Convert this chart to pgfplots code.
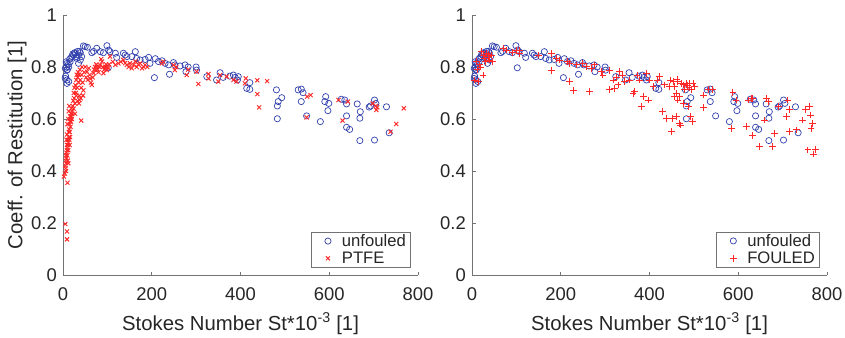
\documentclass[border=0pt]{standalone}
\usepackage{fontspec}
\setmainfont{Liberation Sans}
\usepackage{pgfplots}
\usepackage{pgfplotstable}
\pgfplotsset{compat=1.18}
\definecolor{mblue}{RGB}{50,64,173}
\definecolor{mred}{RGB}{255,40,40}
\definecolor{txt}{rgb}{0.15,0.15,0.15}

\pgfplotstableread{
x y
5 0.795
7 0.82
8 0.80
9 0.814
9 0.788
10 0.79
12 0.81
13 0.80
15 0.83
16 0.82
18 0.835
20 0.84
22 0.85
24 0.846
26 0.855
28 0.853
30 0.84
31 0.833
33 0.86
35 0.846
35 0.814
37 0.86
39 0.855
39 0.827
42 0.84
46 0.881
50 0.878
55 0.876
5 0.756
6 0.765
9 0.75
9 0.737
13 0.744
65 0.855
69 0.86
76 0.872
84 0.859
91 0.855
99 0.882
102 0.797
103 0.865
106 0.859
118 0.853
121 0.837
136 0.853
140 0.846
144 0.84
155 0.84
163 0.859
166 0.833
174 0.827
185 0.829
193 0.837
196 0.814
206 0.759
208 0.832
215 0.821
223 0.824
230 0.814
238 0.808
240 0.772
249 0.817
252 0.808
264 0.804
275 0.808
277 0.782
282 0.80
300 0.80
301 0.788
324 0.763
346 0.75
354 0.778
361 0.76
376 0.765
384 0.769
388 0.76
393 0.75
395 0.763
414 0.718
421 0.714
421 0.74
481 0.712
483 0.65
485 0.667
483 0.601
493 0.682
530 0.712
537 0.715
541 0.701
537 0.667
549 0.612
580 0.59
590 0.667
592 0.686
597 0.632
599 0.66
627 0.676
635 0.673
639 0.658
639 0.612
639 0.568
646 0.56
663 0.658
669 0.603
670 0.628
669 0.517
690 0.646
693 0.65
702 0.673
705 0.66
702 0.519
729 0.647
735 0.547
}\unfouled

\pgfplotstableread{
x y
2 0.378
5 0.196
9 0.167
9 0.137
10 0.355
4 0.39
5 0.42
6 0.44
6 0.41
7 0.46
7 0.43
8 0.47
8 0.45
9 0.48
9 0.50
10 0.49
10 0.46
11 0.52
11 0.50
12 0.51
12 0.48
13 0.53
13 0.55
14 0.56
14 0.52
15 0.58
15 0.55
16 0.59
16 0.61
17 0.60
17 0.57
18 0.62
18 0.59
19 0.61
19 0.64
20 0.60
20 0.63
21 0.62
22 0.65
8 0.52
9 0.54
10 0.58
12 0.60
13 0.63
14 0.65
11 0.44
12 0.43
7 0.40
15 0.50
16 0.53
23 0.67
24 0.70
25 0.68
26 0.72
27 0.66
28 0.73
29 0.70
30 0.75
31 0.77
32 0.72
33 0.76
34 0.78
35 0.74
36 0.77
37 0.69
38 0.79
39 0.75
40 0.68
41 0.72
42 0.77
43 0.80
44 0.74
45 0.69
46 0.71
41 0.594
24 0.64
27 0.62
30 0.69
33 0.67
36 0.66
37 0.673
48 0.78
50 0.80
52 0.76
54 0.782
56 0.75
58 0.795
60 0.77
61 0.756
63 0.74
65 0.731
67 0.76
69 0.776
70 0.79
72 0.80
73 0.788
75 0.81
76 0.801
78 0.79
80 0.78
82 0.80
84 0.808
86 0.83
88 0.821
90 0.80
91 0.776
93 0.79
95 0.801
97 0.81
99 0.788
100 0.80
102 0.795
104 0.81
106 0.84
112 0.82
118 0.808
125 0.814
130 0.82
136 0.827
140 0.815
144 0.808
148 0.80
151 0.814
155 0.795
159 0.808
163 0.821
166 0.80
170 0.81
174 0.814
178 0.795
182 0.80
185 0.808
190 0.80
223 0.814
226 0.82
249 0.808
252 0.788
255 0.80
279 0.769
282 0.79
301 0.782
305 0.735
328 0.773
328 0.756
354 0.769
350 0.744
369 0.763
384 0.75
391 0.744
412 0.756
410 0.737
438 0.749
438 0.696
442 0.645
460 0.746
549 0.606
550 0.686
558 0.692
621 0.673
630 0.594
642 0.667
705 0.65
706 0.635
698 0.66
708 0.645
738 0.551
751 0.581
768 0.641
}\ptfe

\pgfplotstableread{
x y
6 0.75
10 0.82
14 0.744
17 0.808
21 0.859
25 0.846
25 0.769
29 0.833
32 0.853
36 0.84
40 0.827
44 0.846
46 0.82
12 0.79
20 0.80
30 0.82
38 0.85
70 0.872
77 0.865
92 0.855
100 0.865
107 0.865
107 0.853
149 0.846
179 0.853
179 0.788
190 0.833
198 0.827
215 0.821
220 0.744
229 0.709
220 0.814
235 0.808
250 0.814
258 0.801
265 0.705
269 0.795
276 0.808
292 0.782
295 0.769
310 0.788
318 0.75
310 0.712
322 0.718
325 0.76
329 0.731
333 0.782
340 0.769
344 0.744
355 0.75
363 0.699
367 0.705
372 0.769
378 0.75
382 0.647
387 0.686
393 0.776
397 0.673
400 0.75
408 0.724
417 0.75
423 0.763
429 0.628
434 0.731
439 0.603
445 0.724
449 0.551
451 0.603
447 0.75
457 0.724
460 0.609
464 0.744
464 0.673
467 0.583
470 0.577
472 0.737
476 0.731
476 0.66
479 0.714
483 0.737
487 0.647
491 0.737
492 0.609
494 0.712
497 0.59
498 0.737
457 0.686
460 0.699
468 0.686
454 0.745
462 0.752
486 0.73
489 0.72
502 0.727
521 0.692
522 0.645
532 0.712
543 0.712
588 0.701
585 0.564
595 0.673
618 0.571
622 0.673
629 0.679
633 0.538
633 0.679
648 0.494
659 0.596
664 0.679
668 0.667
678 0.494
682 0.545
690 0.647
708 0.609
712 0.673
716 0.635
716 0.551
731 0.558
745 0.596
752 0.635
761 0.647
762 0.615
757 0.481
764 0.564
768 0.583
770 0.465
774 0.483
}\fouled

\newcommand{\lfont}{\fontsize{16.7}{20}\selectfont}
\pgfplotsset{
  mystyle/.style={
    scale only axis, width=355bp, height=260bp,
    xmin=0, xmax=800, ymin=0, ymax=1,
    xtick={0,200,...,800}, ytick={0,0.2,...,1},
    axis x line*=bottom, axis y line*=left,
    axis line style={black!55, line width=0.6bp},
    tick style={black!55, line width=0.6bp},
    tick align=inside, major tick length=3.5bp,
    clip=false,
    /pgf/number format/assume math mode=true,
    tick label style={font=\fontsize{18.5}{22}\selectfont, text=txt},
    xticklabel style={anchor=base, inner sep=0pt, yshift=-25bp},
    yticklabel style={anchor=east, inner sep=0pt, xshift=-6bp},
    label style={font=\fontsize{20.4}{24}\selectfont, text=txt},
    xlabel style={at={(axis description cs:0.5,0)}, anchor=base, yshift=-55bp},
    xlabel={Stokes Number St*10\textsuperscript{-3} [1]},
    legend style={at={(1,0)}, anchor=south east, xshift=-8bp, yshift=8bp,
      draw=black!55, fill=white, inner xsep=2bp, inner ysep=0bp,
      font=\lfont, text=txt,
      nodes={inner xsep=2bp, font=\lfont}},
    legend cell align=left,
  },
  scat/.style={only marks,
    legend image code/.code={\path[draw=none,fill=none] (0bp,-3bp) rectangle (27bp,3bp);
      \draw[##1] plot coordinates {(15bp,0bp)};}},
}

\begin{document}
\begin{tikzpicture}
\useasboundingbox (0,0) rectangle (845bp,338bp);
\begin{axis}[mystyle, at={(63bp,63bp)}, anchor=south west,
  ylabel={Coeff. of Restitution [1]},
  ylabel style={at={(axis description cs:-0.1296,0.5)}, anchor=center}]
\addplot[scat, mark=o, mark size=3.1bp, color=mblue, mark options={solid, draw=mblue, fill=none}, line width=0.7bp] table {\unfouled};
\addlegendentry{unfouled}
\addplot[scat, mark=x, mark size=2.9bp, color=mred, mark options={solid, draw=mred}, line width=0.9bp] table {\ptfe};
\addlegendentry{PTFE}
\end{axis}
\begin{axis}[mystyle, at={(472bp,63bp)}, anchor=south west]
\addplot[scat, mark=o, mark size=3.1bp, color=mblue, mark options={solid, draw=mblue, fill=none}, line width=0.7bp] table {\unfouled};
\addlegendentry{unfouled}
\addplot[scat, mark=+, mark size=3.4bp, color=mred, mark options={solid, draw=mred}, line width=0.95bp] table {\fouled};
\addlegendentry{FOULED}
\end{axis}
\end{tikzpicture}
\end{document}
